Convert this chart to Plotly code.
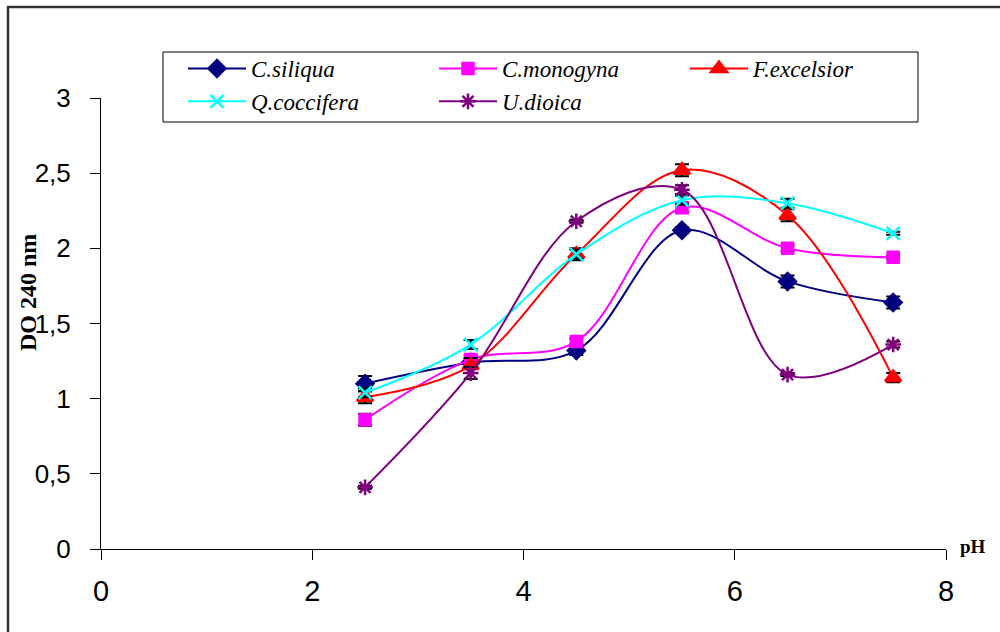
import plotly.graph_objects as go

# pH values and absorbance (DO at 240 nm) for each species
ph = [2.5, 3.5, 4.5, 5.5, 6.5, 7.5]

c_siliqua = [1.10, 1.24, 1.32, 2.12, 1.78, 1.64]
c_monogyna = [0.86, 1.26, 1.38, 2.27, 2.00, 1.94]
f_excelsior = [1.01, 1.22, 1.96, 2.52, 2.22, 1.14]
q_coccifera = [1.04, 1.36, 1.96, 2.32, 2.30, 2.10]
u_dioica = [0.41, 1.17, 2.18, 2.39, 1.16, 1.36]

err_c_siliqua = [0.05, 0.03, 0.03, 0.02, 0.04, 0.04]
err_c_monogyna = [0.04, 0.03, 0.02, 0.03, 0.02, 0.01]
err_f_excelsior = [0.04, 0.05, 0.04, 0.04, 0.04, 0.03]
err_q_coccifera = [0.03, 0.03, 0.03, 0.03, 0.03, 0.01]
err_u_dioica = [0.01, 0.04, 0.01, 0.03, 0.01, 0.02]

series = [
    ("C.siliqua", c_siliqua, err_c_siliqua, "#000080", "diamond", 13),
    ("C.monogyna", c_monogyna, err_c_monogyna, "#FF00FF", "square", 11),
    ("F.excelsior", f_excelsior, err_f_excelsior, "#FF0000", "triangle-up", 14),
    ("Q.coccifera", q_coccifera, err_q_coccifera, "#00FFFF", "x-thin", 13),
    ("U.dioica", u_dioica, err_u_dioica, "#800080", "asterisk", 13),
]

fig = go.Figure()
for name, vals, err, color, symbol, size in series:
    fig.add_trace(go.Scatter(
        x=ph, y=vals, name=name, mode="lines+markers",
        line=dict(color=color, width=2, shape="spline", smoothing=1.0),
        marker=dict(symbol=symbol, size=size, color=color,
                    line=dict(color=color, width=2.5)),
        error_y=dict(type="data", array=err, visible=True,
                     color="black", thickness=2, width=7),
    ))

W, H = 1000, 632
L, R, T, B = 101, 54, 98, 83
pw, ph_px = W - L - R, H - T - B


def px_x(p):
    return (p - L) / pw


def px_y(p):
    return (H - B - p) / ph_px


serif = "Liberation Serif"

fig.update_layout(
    width=W, height=H,
    margin=dict(l=L, r=R, t=T, b=B, pad=0),
    paper_bgcolor="white", plot_bgcolor="white",
    separators=", ",
    showlegend=True,
    legend=dict(
        orientation="h",
        x=px_x(183), y=px_y(47), xanchor="left", yanchor="top",
        xref="paper", yref="paper",
        entrywidth=178, entrywidthmode="pixels",
        itemwidth=58,
        borderwidth=0, bgcolor="rgba(0,0,0,0)",
        font=dict(family=serif, size=23, color="black", style="italic"),
        tracegroupgap=0,
    ),
    xaxis=dict(
        range=[0, 8], tickmode="linear", tick0=0, dtick=2,
        showgrid=False, zeroline=False,
        showline=True, linecolor="black", linewidth=1,
        ticks="outside", ticklen=10, tickcolor="black",
        ticklabelstandoff=6,
        tickfont=dict(family="Liberation Sans, Arial, sans-serif",
                      size=29, color="black"),
    ),
    yaxis=dict(
        range=[0, 3], tickmode="linear", tick0=0, dtick=0.5,
        showgrid=False, zeroline=False,
        showline=True, linecolor="black", linewidth=1,
        ticks="outside", ticklen=10, tickcolor="black",
        ticklabelstandoff=14,
        tickfont=dict(family="Liberation Sans, Arial, sans-serif",
                      size=26, color="black"),
    ),
    shapes=[
        # outer frame
        dict(type="rect", xref="paper", yref="paper",
             x0=px_x(8), x1=px_x(1010), y0=px_y(645), y1=px_y(7),
             line=dict(color="#333333", width=2.5),
             fillcolor="rgba(0,0,0,0)"),
        # legend box
        dict(type="rect", xref="paper", yref="paper",
             x0=px_x(163), x1=px_x(918), y0=px_y(122), y1=px_y(52),
             line=dict(color="black", width=1),
             fillcolor="rgba(0,0,0,0)"),
    ],
    annotations=[
        dict(text="<b>pH</b>", xref="paper", yref="paper",
             x=px_x(958), y=px_y(546), xanchor="left", yanchor="middle",
             showarrow=False,
             font=dict(family=serif, size=19, color="black")),
        dict(text="<b>DO 240 nm</b>", xref="paper", yref="paper",
             x=px_x(28), y=px_y(293), xanchor="center", yanchor="middle",
             textangle=-90, showarrow=False,
             font=dict(family=serif, size=24, color="black")),
    ],
)

fig.write_html("out.html")
